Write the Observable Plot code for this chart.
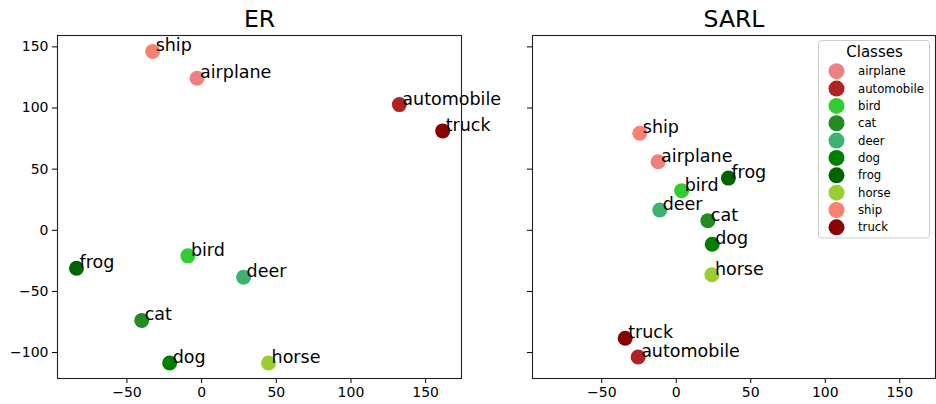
<!DOCTYPE html>
<html><head><meta charset="utf-8">
<script src="https://cdn.jsdelivr.net/npm/d3@7"></script>
<script src="https://cdn.jsdelivr.net/npm/@observablehq/plot@0.6"></script>
<style>
body{margin:0;background:#fff;font-family:"DejaVu Sans",sans-serif}
#wrap{position:relative;width:936px;height:404px;overflow:hidden}
#wrap svg{position:absolute;top:0}
</style>
</head><body><div id="wrap"></div>
<script>
const classes = ["airplane","automobile","bird","cat","deer","dog","frog","horse","ship","truck"];
const colors = ["#f08080","#b22222","#32cd32","#228b22","#3cb371","#008000","#006400","#9acd32","#fa8072","#8b0000"];
const erX = [-3.1, 132.4, -9.2, -40.1, 28.1, -21.4, -83.8, 44.8, -32.8, 161.4];
const erY = [124.3, 102.8, -20.9, -73.7, -38.3, -108.5, -31.0, -108.5, 146.3, 81.3];
const sarlX = [-12.2, -25.6, 3.6, 21.2, -11.1, 24.1, 35.0, 23.9, -24.5, -34.3];
const sarlY = [56.0, -103.6, 32.4, 7.9, 16.6, -11.4, 42.7, -36.4, 79.4, -88.3];
const xTicks = [-50, 0, 50, 100, 150];
const yTicks = [-100, -50, 0, 50, 100, 150];
const panelTitles = ["ER", "SARL"];
const legendTitle = "Classes";

function panel(title, xs, ys, showYLabels, o) {
  const data = classes.map((c, i) => ({c, x: xs[i], y: ys[i]}));
  return Plot.plot({
    width: o.width, height: 404,
    marginLeft: o.ml, marginRight: o.mr, marginTop: 35, marginBottom: 26,
    style: {overflow: "visible", background: "transparent", fontFamily: "DejaVu Sans", color: "black"},
    x: {domain: [-96.5, 174]},
    y: {domain: [-121.2, 159.3]},
    color: {domain: classes, range: colors},
    marks: [
      Plot.axisX({ticks: xTicks, tickSize: 5, tickPadding: 4, fontSize: 14, label: null}),
      Plot.axisY({ticks: yTicks, tickSize: 5, tickPadding: 4, fontSize: 14, label: null,
        tickFormat: showYLabels ? (d => d < 0 ? "\u2212" + Math.abs(d) : String(d)) : () => ""}),
      Plot.dot(data, {x: "x", y: "y", fill: "c", r: 7.5}),
      Plot.text(data, {x: "x", y: "y", text: "c", dx: 3, textAnchor: "start", lineAnchor: "bottom", fontSize: 17.5, fill: "black"}),
      Plot.frame({stroke: "#222", strokeWidth: 1.1}),
      Plot.text([title], {text: d => d, frameAnchor: "top", dy: -9, lineAnchor: "bottom", fontSize: 23.5, fill: "black"})
    ]
  });
}

const wrap = document.getElementById("wrap");
const right = panel(panelTitles[1], sarlX, sarlY, false, {width: 466, ml: 62, mr: 1});
right.style.left = "470px";
const left = panel(panelTitles[0], erX, erY, true, {width: 470, ml: 57, mr: 9});
left.style.left = "0px";
wrap.appendChild(right);
wrap.appendChild(left);

// legend overlay
const lg = d3.select(wrap).append("svg")
  .attr("width", 936).attr("height", 404)
  .style("left", "0px").style("pointer-events", "none")
  .style("font-family", "DejaVu Sans");
lg.append("rect").attr("x", 818.5).attr("y", 40.5).attr("width", 111).attr("height", 197.5)
  .attr("rx", 3).attr("fill", "white").attr("fill-opacity", 0.8).attr("stroke", "#cccccc");
lg.append("text").attr("x", 874.5).attr("y", 57).attr("text-anchor", "middle")
  .attr("font-size", 15).text(legendTitle);
const ent = lg.selectAll("g.e").data(classes).join("g");
ent.append("circle").attr("cx", 836.5).attr("cy", (d, i) => 71.2 + i * 17.35).attr("r", 8)
  .attr("fill", (d, i) => colors[i]);
ent.append("text").attr("x", 858).attr("y", (d, i) => 71.2 + i * 17.35).attr("dy", "0.35em")
  .attr("font-size", 11.7).text(d => d);
</script>
</body></html>
